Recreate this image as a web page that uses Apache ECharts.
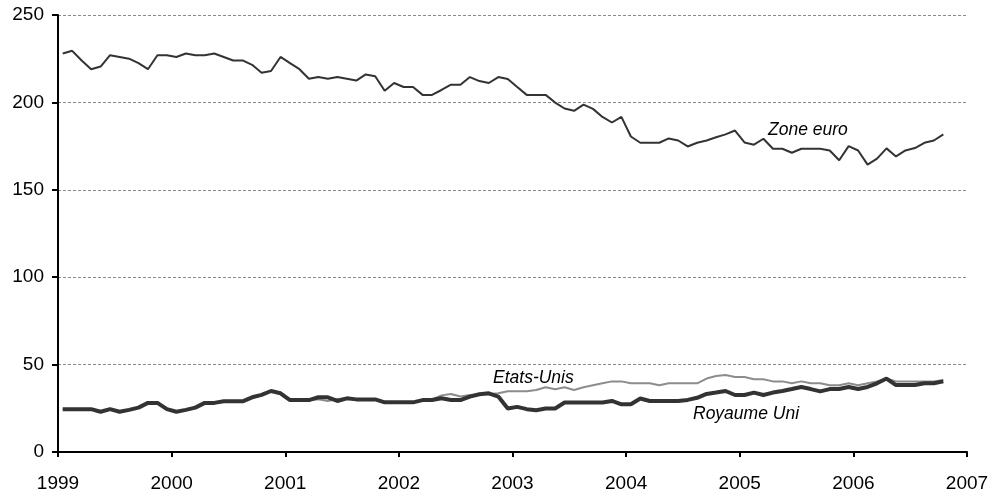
<!DOCTYPE html>
<html><head><meta charset="utf-8">
<script src="https://cdn.jsdelivr.net/npm/echarts@6/dist/echarts.min.js"></script>
<style>html,body{margin:0;padding:0;background:#fff}#c{width:1002px;height:499px}</style>
</head><body><div id="c"></div>
<script>
// Monthly series, January 1999 to October 2006
var startYear = 1999;
var yTicks = [0, 50, 100, 150, 200, 250];
var xTickYears = [1999, 2000, 2001, 2002, 2003, 2004, 2005, 2006, 2007];
var seriesNames = ['Zone euro', 'Etats-Unis', 'Royaume Uni'];

var zoneEuro = [
  228, 229.5, 224, 219, 220.5, 227, 226, 225, 222.5, 219, 227, 227,
  226, 228, 227, 227, 228, 226, 224, 224, 221.5, 217, 218, 226,
  222.5, 219, 213.5, 214.5, 213.5, 214.5, 213.5, 212.5, 216, 215,
  206.7, 211.1, 208.8, 208.8, 204.3, 204.3, 207.1, 210.1, 210.1, 214.5, 212.2, 211.1, 214.5, 213.4,
  208.8, 204.3, 204.3, 204.3, 199.9, 196.5, 195.2, 198.7, 196.3, 191.7, 188.5, 191.7,
  180.5, 176.9, 176.9, 176.9, 179.4, 178.2, 174.8, 176.9,
  178.2, 180.1, 181.7, 183.9, 177.1, 175.8, 179.2, 173.5, 173.5, 171.2, 173.5, 173.5,
  173.5, 172.5, 166.9, 175, 172.5, 164.4, 167.8, 173.7, 169.1, 172.5, 173.9, 176.9, 178.2, 181.7
];
var etatsUnis = [
  24.5, 24.5, 24.5, 24.5, 23, 24.5, 23, 24.1, 25.4, 28.1, 28.1, 24.5,
  23, 24.1, 25.4, 28.1, 28.1, 29, 29, 29, 31.3, 32.7, 34.9, 33.6,
  29.7, 29.7, 30.1, 30.1, 29.2, 30.3, 30.7, 30.1, 30.1, 30.1, 28.4, 28.4,
  28.4, 28.4, 29.7, 30.1, 32.4, 33.2, 31.7, 32.6, 33, 33, 33.6,
  34.7, 34.7, 34.7, 35.5, 37, 35.9, 37, 35.5, 37, 38.2, 39.3, 40.4, 40.4,
  39.3, 39.3, 39.3, 38.2, 39.3, 39.3, 39.3, 39.3,
  42, 43.5, 44, 42.9, 42.9, 41.6, 41.6, 40.4, 40.4, 39.3, 40.4, 39.3,
  39.3, 38.2, 38.2, 39.3, 38.2, 39.3, 40.4, 42, 40.4, 40.4, 40.4, 40.4, 40.4, 41.2
];
var royaumeUni = [
  24.5, 24.5, 24.5, 24.5, 23, 24.5, 23, 24.1, 25.4, 28.1, 28.1, 24.5,
  23, 24.1, 25.4, 28.1, 28.1, 29, 29, 29, 31.3, 32.7, 34.9, 33.6,
  29.7, 29.7, 29.7, 31.3, 31.3, 29.2, 30.7, 30.1, 30.1, 30.1, 28.4, 28.4,
  28.4, 28.4, 29.7, 29.7, 30.7, 29.7, 29.7, 31.7, 33, 33.6, 31.7,
  24.9, 25.8, 24.5, 23.9, 24.9, 24.9, 28.3, 28.3, 28.3, 28.3, 28.3, 29.2, 27.3,
  27.3, 30.6, 29.2, 29.2, 29.2, 29.2, 29.8, 31,
  33.2, 34, 34.9, 32.6, 32.6, 34, 32.6, 34, 34.9, 36, 37.2, 36,
  34.7, 36, 36, 37.2, 36, 37.2, 39.3, 42, 38.3, 38.3, 38.3, 39.3, 39.3, 40.4
];

function toPairs(arr) {
  return arr.map(function (v, i) { return [startYear + (i + 0.5) / 12, v]; });
}

var FONT = '"Liberation Sans", Arial, sans-serif';
var chart = echarts.init(document.getElementById('c'), null, {renderer: 'canvas'});
chart.setOption({
  animation: false,
  backgroundColor: '#fff',
  grid: {left: 58, right: 35, top: 15, bottom: 47, containLabel: false},
  xAxis: {
    type: 'value',
    min: xTickYears[0], max: xTickYears[xTickYears.length - 1], interval: 1,
    axisLine: {show: true, onZero: false, lineStyle: {color: '#000', width: 2}},
    axisTick: {show: true, inside: false, length: 5, lineStyle: {color: '#000', width: 2}},
    axisLabel: {color: '#000', fontSize: 19, fontFamily: FONT, margin: 22,
      formatter: function (v) { return String(Math.round(v)); }},
    splitLine: {show: false}
  },
  yAxis: {
    type: 'value',
    min: yTicks[0], max: yTicks[yTicks.length - 1], interval: 50,
    axisLine: {show: true, lineStyle: {color: '#000', width: 2}},
    axisTick: {show: true, inside: false, length: 6, lineStyle: {color: '#000', width: 2}},
    axisLabel: {color: '#000', fontSize: 19, fontFamily: FONT, margin: 14},
    splitLine: {show: true, lineStyle: {color: '#8a8a8a', width: 1, type: [3, 2]}}
  },
  series: [
    {name: seriesNames[0], type: 'line', data: toPairs(zoneEuro), showSymbol: false,
      lineStyle: {color: '#333', width: 2}, z: 3},
    {name: seriesNames[1], type: 'line', data: toPairs(etatsUnis), showSymbol: false,
      lineStyle: {color: '#8c8c8c', width: 2}, z: 3},
    {name: seriesNames[2], type: 'line', data: toPairs(royaumeUni), showSymbol: false,
      lineStyle: {color: '#333', width: 4}, z: 4}
  ],
  graphic: [
    {type: 'text', left: 768, top: 121, style: {text: seriesNames[0], font: 'italic 17.5px ' + FONT, fill: '#000'}},
    {type: 'text', left: 493, top: 369, style: {text: seriesNames[1], font: 'italic 17.5px ' + FONT, fill: '#000'}},
    {type: 'text', left: 693, top: 405, style: {text: seriesNames[2], font: 'italic 17.5px ' + FONT, fill: '#000'}}
  ]
});
</script></body></html>
